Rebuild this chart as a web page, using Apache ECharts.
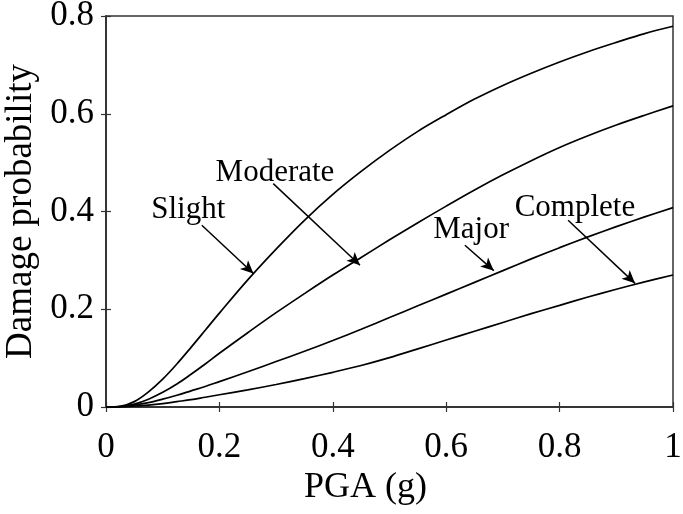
<!DOCTYPE html>
<html>
<head>
<meta charset="utf-8">
<script src="https://cdn.jsdelivr.net/npm/echarts@6/dist/echarts.min.js"></script>
<style>
html,body{margin:0;padding:0;background:#fff;}
#c{width:683px;height:514px;}
</style>
</head>
<body>
<div id="c"></div>
<script>
const pga = [0,0.025,0.05,0.075,0.1,0.125,0.15,0.175,0.2,0.25,0.3,0.35,0.4,0.45,0.5,0.55,0.6,0.65,0.7,0.75,0.8,0.85,0.9,0.95,1.0];
const slight   = [0,0.0014,0.011,0.031,0.057,0.088,0.122,0.157,0.192,0.260,0.323,0.382,0.435,0.482,0.525,0.564,0.598,0.630,0.658,0.683,0.706,0.727,0.746,0.764,0.779];
const moderate = [0,0.001,0.006,0.016,0.030,0.047,0.067,0.088,0.110,0.152,0.193,0.232,0.270,0.306,0.342,0.377,0.411,0.444,0.475,0.504,0.531,0.555,0.577,0.597,0.616];
const major    = [0,0.001,0.004,0.009,0.016,0.024,0.033,0.042,0.052,0.072,0.093,0.114,0.136,0.159,0.183,0.207,0.231,0.255,0.279,0.303,0.326,0.348,0.369,0.389,0.408];
const complete = [0,0.0002,0.002,0.004,0.007,0.011,0.015,0.020,0.025,0.035,0.046,0.058,0.071,0.085,0.101,0.119,0.137,0.155,0.173,0.191,0.208,0.225,0.241,0.256,0.270];

const seriesNames = ['Slight','Moderate','Major','Complete'];
const seriesValues = [slight, moderate, major, complete];
// annotation text anchor (data coords)
const labelPos = [[0.145,0.403],[0.298,0.480],[0.644,0.362],[0.827,0.407]];
// arrow start and tip (data coords)
const arrowFrom = [[0.169,0.372],[0.295,0.457],[0.633,0.331],[0.815,0.382]];
const arrowTo   = [[0.260,0.273],[0.448,0.290],[0.684,0.279],[0.933,0.253]];

const FONT = '"Liberation Serif","Times New Roman",serif';

const chart = echarts.init(document.getElementById('c'), null, {renderer:'canvas'});

const series = seriesNames.map((name, i) => ({
  name: name,
  type: 'line',
  smooth: 0.35,
  showSymbol: false,
  data: pga.map((x, j) => [x, seriesValues[i][j]]),
  lineStyle: {color:'#000', width:1.7},
  itemStyle: {color:'#000'},
  z: 3,
  markPoint: {
    silent: true,
    symbol: 'rect',
    symbolSize: 1,
    itemStyle: {color:'rgba(0,0,0,0)'},
    label: {show:true, position:'inside', formatter: name, color:'#000',
            fontFamily: FONT, fontSize: 31},
    data: [{coord: labelPos[i]}]
  },
  markLine: {
    silent: true,
    symbol: ['none','arrow'],
    symbolSize: [9, 13],
    lineStyle: {color:'#000', width:1.5, type:'solid'},
    label: {show:false},
    data: [[{coord: arrowFrom[i]}, {coord: arrowTo[i]}]]
  }
}));

const axisCommon = {
  axisLine: {show:true, lineStyle:{color:'#333', width:1.5}},
  axisTick: {show:true, inside:true, length:5, lineStyle:{color:'#333', width:1.2}},
  splitLine: {show:false}
};

chart.setOption({
  animation: false,
  backgroundColor: '#fff',
  grid: {left:106, right:10, top:16, bottom:107, containLabel:false, outerBoundsMode:'none',
         show:true, borderColor:'#333', borderWidth:1.5},
  xAxis: [
    Object.assign({
      type:'value', min:0, max:1, interval:0.2,
      name:'PGA (g)', nameLocation:'middle', nameGap:55,
      nameTextStyle:{fontFamily:FONT, fontSize:36, color:'#000', padding:[0,48,0,0]},
      axisLabel:{fontFamily:FONT, fontSize:35, color:'#000', margin:23}
    }, axisCommon),
    Object.assign({
      type:'value', min:0, max:1, interval:0.2, position:'top',
      axisLabel:{show:false}
    }, axisCommon)
  ],
  yAxis: [
    Object.assign({
      type:'value', min:0, max:0.8, interval:0.2,
      name:'Damage probability', nameLocation:'middle', nameGap:66, nameRotate:90,
      nameTextStyle:{fontFamily:FONT, fontSize:37, color:'#000'},
      axisLabel:{fontFamily:FONT, fontSize:35, color:'#000', margin:12}
    }, axisCommon),
    Object.assign({
      type:'value', min:0, max:0.8, interval:0.2, position:'right',
      axisLabel:{show:false}
    }, axisCommon)
  ],
  series: series
});
</script>
</body>
</html>
